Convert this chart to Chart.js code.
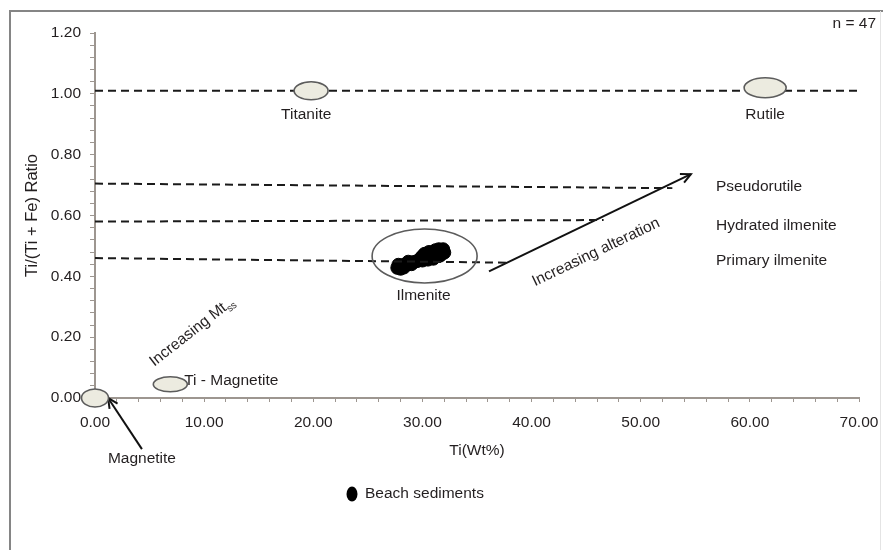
<!doctype html>
<html lang="en">
  <head>
    <meta charset="UTF-8" />
    <title>Ti vs Ti/(Ti + Fe) Ratio</title>
    <script src="https://cdn.jsdelivr.net/npm/chart.js@4.4.1/dist/chart.umd.min.js"></script>
    <style>
      html,
      body {
        margin: 0;
        padding: 0;
        background: #fff;
      }
      #wrap {
        width: 883px;
        height: 550px;
      }
    </style>
  </head>
  <body>
    <div id="wrap"><canvas id="chart"></canvas></div>
    <script>
      // Beach sediment samples (n = 47)
      const tiWt = [
        27.7, 27.9, 28.0, 28.2, 27.8, 28.3, 28.6, 28.9, 29.2, 29.0, 29.5, 28.7,
        29.8, 29.9, 30.0, 30.1, 30.2, 30.3, 30.4, 30.5, 30.6, 30.7, 30.8, 30.9,
        31.0, 31.1, 31.2, 31.3, 31.4, 31.5, 31.6, 31.7, 31.8, 31.9, 32.0, 31.85,
        31.5, 31.2, 30.6, 30.2, 31.0, 31.6, 30.4, 30.9, 31.3, 31.8, 30.0,
      ];
      const tiRatio = [
        0.428, 0.433, 0.425, 0.437, 0.438, 0.429, 0.441, 0.445, 0.447, 0.44,
        0.45, 0.448, 0.455, 0.462, 0.452, 0.468, 0.458, 0.464, 0.472, 0.455,
        0.466, 0.476, 0.46, 0.47, 0.48, 0.464, 0.474, 0.483, 0.468, 0.478,
        0.486, 0.472, 0.481, 0.489, 0.478, 0.486, 0.489, 0.486, 0.48, 0.474,
        0.458, 0.468, 0.46, 0.478, 0.472, 0.476, 0.466,
      ];

      // Dashed reference lines (Titanite-Rutile, Pseudorutile, Hydrated, Primary)
      const refStartX = [0, 0, 0, 0];
      const refEndX = [70, 52.9, 46.6, 37.8];
      const refStartY = [1.01, 0.705, 0.58, 0.46];
      const refEndY = [1.01, 0.69, 0.585, 0.445];

      // Mineral fields
      const mineralNames = ["Titanite", "Rutile", "Ti - Magnetite", "Magnetite", "Ilmenite"];
      const mineralX = [19.8, 61.4, 6.9, 0, 30.2];
      const mineralY = [1.01, 1.02, 0.045, 0, 0.467];

      // Trend arrows (alteration, magnetite)
      const arrowFromX = [36.1, 4.3];
      const arrowFromY = [0.416, -0.168];
      const arrowToX = [54.6, 1.2];
      const arrowToY = [0.736, 0.0];

      // Axis ticks
      const xMin = 0, xMax = 70, xStep = 2, xLabelEvery = 10;
      const yMin = 0, yMax = 1.2, yStep = 0.04, yLabelEvery = 0.2;

      const FONT = '"Liberation Sans", Arial, sans-serif';
      const TEXT = "#231f20";
      const AXIS = "#9d9690";

      const refLines = refStartX.map((x0, i) => ({
        type: "line",
        showLine: true,
        data: [
          { x: x0, y: refStartY[i] },
          { x: refEndX[i], y: refEndY[i] },
        ],
        borderColor: "#1a1a1a",
        borderWidth: 2,
        borderDash: [8, 5],
        pointRadius: 0,
        clip: false,
      }));

      const arrows = arrowFromX.map((x0, i) => ({
        type: "line",
        showLine: true,
        data: [
          { x: x0, y: arrowFromY[i] },
          { x: arrowToX[i], y: arrowToY[i] },
        ],
        borderColor: "#111",
        borderWidth: 2,
        pointRadius: 0,
        clip: false,
      }));

      // ellipse size in px for each mineral field
      const fieldStyle = {
        Titanite: { rx: 17, ry: 9, fill: true },
        Rutile: { rx: 21, ry: 10, fill: true },
        "Ti - Magnetite": { rx: 17, ry: 7.5, fill: true },
        Magnetite: { rx: 13.5, ry: 9, fill: true },
        Ilmenite: { rx: 52.5, ry: 27, fill: false },
      };

      function text(ctx, s, px, py, align, size) {
        ctx.font = (size || 15.5) + "px " + FONT;
        ctx.fillStyle = TEXT;
        ctx.textAlign = align || "center";
        ctx.textBaseline = "middle";
        ctx.fillText(s, px, py);
      }

      const annotations = {
        id: "annotations",
        beforeDraw(chart) {
          const ctx = chart.ctx;
          ctx.save();
          ctx.fillStyle = "#fff";
          ctx.fillRect(0, 0, chart.width, chart.height);
          // outer frame
          ctx.strokeStyle = "#858585";
          ctx.lineWidth = 2;
          ctx.beginPath();
          ctx.moveTo(10, chart.height);
          ctx.lineTo(10, 11);
          ctx.lineTo(chart.width, 11);
          ctx.stroke();
          ctx.strokeStyle = "#e4e4e4";
          ctx.lineWidth = 1;
          ctx.beginPath();
          ctx.moveTo(880.5, 11);
          ctx.lineTo(880.5, chart.height);
          ctx.stroke();
          ctx.restore();
        },
        afterDatasetsDraw(chart) {
          const { ctx } = chart;
          const x = chart.scales.x, y = chart.scales.y;
          ctx.save();

          // arrow heads
          ctx.strokeStyle = "#111";
          ctx.lineWidth = 2;
          arrowToX.forEach((tx, i) => {
            const x1 = x.getPixelForValue(tx), y1 = y.getPixelForValue(arrowToY[i]);
            const x0 = x.getPixelForValue(arrowFromX[i]), y0 = y.getPixelForValue(arrowFromY[i]);
            const a = Math.atan2(y1 - y0, x1 - x0);
            ctx.beginPath();
            ctx.moveTo(x1 - 11 * Math.cos(a - 0.45), y1 - 11 * Math.sin(a - 0.45));
            ctx.lineTo(x1, y1);
            ctx.lineTo(x1 - 11 * Math.cos(a + 0.45), y1 - 11 * Math.sin(a + 0.45));
            ctx.stroke();
          });

          // mineral field ellipses
          mineralNames.forEach((name, i) => {
            const s = fieldStyle[name];
            ctx.beginPath();
            ctx.ellipse(x.getPixelForValue(mineralX[i]), y.getPixelForValue(mineralY[i]), s.rx, s.ry, 0, 0, Math.PI * 2);
            if (s.fill) {
              ctx.fillStyle = "#ecebe0";
              ctx.fill();
            }
            ctx.strokeStyle = "#5c5c5c";
            ctx.lineWidth = 1.6;
            ctx.stroke();
          });

          // labels
          const X = (v) => x.getPixelForValue(v), Y = (v) => y.getPixelForValue(v);
          text(ctx, "Titanite", X(19.35), Y(0.931));
          text(ctx, "Rutile", X(61.4), Y(0.931));
          text(ctx, "Pseudorutile", X(56.9), Y(0.694), "left");
          text(ctx, "Hydrated ilmenite", X(56.9), Y(0.567), "left");
          text(ctx, "Primary ilmenite", X(56.9), Y(0.45), "left");
          text(ctx, "Ilmenite", X(30.1), Y(0.337));
          text(ctx, "Ti - Magnetite", X(8.17), Y(0.056), "left");
          text(ctx, "Magnetite", X(4.3), Y(-0.2));
          text(ctx, "n = 47", chart.width - 7, 24, "right");

          // rotated trend labels
          ctx.save();
          ctx.translate(X(45.9), Y(0.479));
          ctx.rotate((-25.6 * Math.PI) / 180);
          text(ctx, "Increasing alteration", 0, 0);
          ctx.restore();

          ctx.save();
          ctx.translate(X(8.9), Y(0.218));
          ctx.rotate((-38 * Math.PI) / 180);
          ctx.font = "15.5px " + FONT;
          const w1 = ctx.measureText("Increasing Mt").width;
          ctx.font = "10px " + FONT;
          const w2 = ctx.measureText("ss").width;
          const start = -(w1 + w2) / 2;
          text(ctx, "Increasing Mt", start, 0, "left");
          text(ctx, "ss", start + w1, 5, "left", 10);
          ctx.restore();

          // legend
          ctx.beginPath();
          ctx.ellipse(352, 494, 5.5, 7.5, 0, 0, Math.PI * 2);
          ctx.fillStyle = "#000";
          ctx.fill();
          text(ctx, "Beach sediments", 365, 494, "left");

          ctx.restore();
        },
      };

      new Chart(document.getElementById("chart"), {
        type: "scatter",
        data: {
          datasets: [
            ...refLines,
            ...arrows,
            {
              label: "Beach sediments",
              data: tiWt.map((v, i) => ({ x: v, y: tiRatio[i] })),
              backgroundColor: "#000",
              borderColor: "#000",
              pointRadius: 6.5,
              pointHoverRadius: 6.5,
            },
          ],
        },
        options: {
          responsive: true,
          maintainAspectRatio: false,
          animation: false,
          layout: { padding: { left: 0, right: 24, top: 33, bottom: 0 } },
          plugins: {
            legend: { display: false },
            tooltip: { enabled: false },
          },
          scales: {
            x: {
              type: "linear",
              min: xMin,
              max: xMax,
              afterFit: (s) => {
                s.height = 152;
                s.paddingLeft = 0;
                s.paddingRight = 0;
              },
              ticks: {
                stepSize: xStep,
                autoSkip: false,
                maxRotation: 0,
                minRotation: 0,
                padding: 11,
                color: TEXT,
                font: { family: FONT, size: 15.5 },
                callback: (v) => (v % xLabelEvery === 0 ? v.toFixed(2) : ""),
              },
              grid: { drawOnChartArea: false, tickLength: 4, color: AXIS },
              border: { color: AXIS, width: 2 },
              title: {
                display: true,
                text: "Ti(Wt%)",
                color: TEXT,
                font: { family: FONT, size: 15.5 },
                padding: { top: 0, bottom: 90 },
              },
            },
            y: {
              type: "linear",
              min: yMin,
              max: yMax,
              afterFit: (s) => {
                s.width = 95;
              },
              ticks: {
                stepSize: yStep,
                autoSkip: false,
                padding: 9,
                color: TEXT,
                font: { family: FONT, size: 15.5 },
                callback: (v) =>
                  Math.abs(v / yLabelEvery - Math.round(v / yLabelEvery)) < 1e-6 ? v.toFixed(2) : "",
              },
              grid: { drawOnChartArea: false, tickLength: 5, color: AXIS },
              border: { color: AXIS, width: 2 },
              title: {
                display: true,
                text: "Ti/(Ti + Fe) Ratio",
                color: TEXT,
                font: { family: FONT, size: 16.5 },
                padding: { top: 23, bottom: 0 },
              },
            },
          },
        },
        plugins: [annotations],
      });
    </script>
  </body>
</html>
